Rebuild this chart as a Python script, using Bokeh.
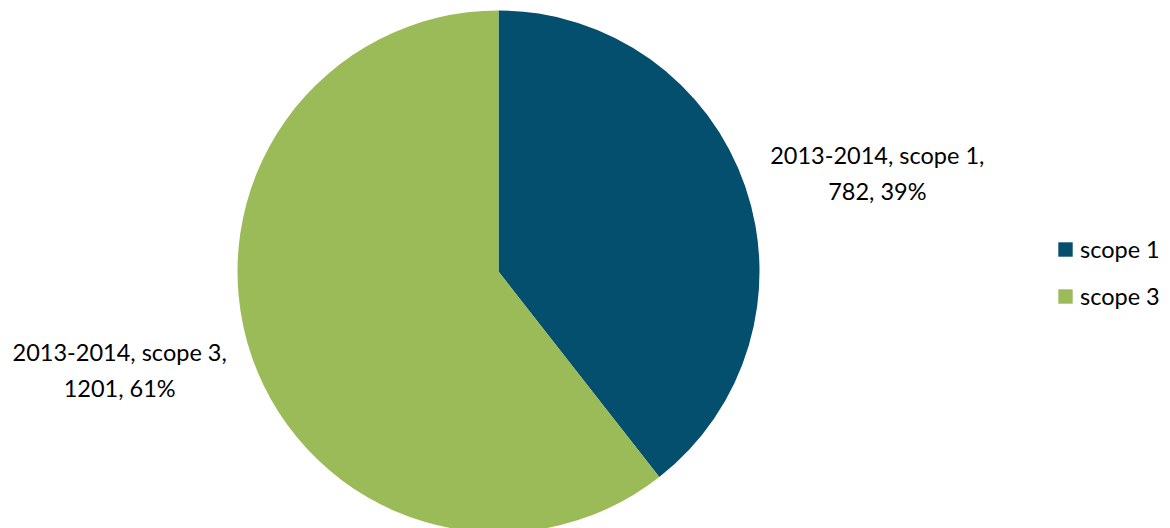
import numpy as np
from bokeh.plotting import figure
from bokeh.models import Range1d, ColumnDataSource, Legend, LegendItem
from bokeh.core.properties import value
from bokeh.embed import file_html
from bokeh.resources import INLINE

# ---- data ----
period = "2013-2014"
categories = ["scope 1", "scope 3"]
values = [782, 1201]
colors = ["#044F6D", "#9BBB59"]

# ---- layout constants (screen px, origin bottom-left) ----
W, H = 1170, 528
cx, cy = 498, H - 271
R = 261
label_r = 391.5
label_shift = np.deg2rad(-4.4)
FONT = "Lato"
FS = 23.5

vals = np.array(values, dtype=float)
frac = vals / vals.sum()
cum = np.concatenate([[0], np.cumsum(frac)])
start = np.pi / 2 - cum[:-1] * 2 * np.pi
end = np.pi / 2 - cum[1:] * 2 * np.pi
mid = (start + end) / 2 + label_shift

pct = [f"{round(f * 100):.0f}%" for f in frac]
labels = [f"{period}, {c},\n{v}, {p}" for c, v, p in zip(categories, values, pct)]

src = ColumnDataSource(dict(
    cat=categories, start=start, end=end, color=colors,
    lx=cx + label_r * np.cos(mid), ly=cy + label_r * np.sin(mid), label=labels,
))

p = figure(width=W, height=H, x_range=Range1d(0, W), y_range=Range1d(0, H),
           output_backend="svg", toolbar_location=None, min_border=0)
p.axis.visible = False
p.grid.visible = False
p.outline_line_color = None
p.background_fill_color = "white"

renderers = []
for i in range(len(categories)):
    r = p.wedge(x=cx, y=cy, radius=R, start_angle=start[i], end_angle=end[i],
                direction="clock", fill_color=colors[i], line_color=None)
    renderers.append(r)

p.text(x="lx", y="ly", text="label", source=src, text_align="center",
       text_baseline="middle", text_font=value(FONT), text_font_size=f"{FS}px",
       text_color="#000000", text_line_height=1.28)

legend = Legend(items=[LegendItem(label=c, renderers=[r]) for c, r in zip(categories, renderers)],
                location=(1056, H - 311), padding=0, margin=0, spacing=17,
                glyph_width=18, glyph_height=18, label_height=30, label_standoff=6,
                label_text_font=FONT, label_text_font_size=f"{FS}px",
                label_text_color="#000000", border_line_alpha=0,
                background_fill_alpha=0)
p.add_layout(legend, "center")

open("out.html", "w").write(file_html(p, INLINE))
